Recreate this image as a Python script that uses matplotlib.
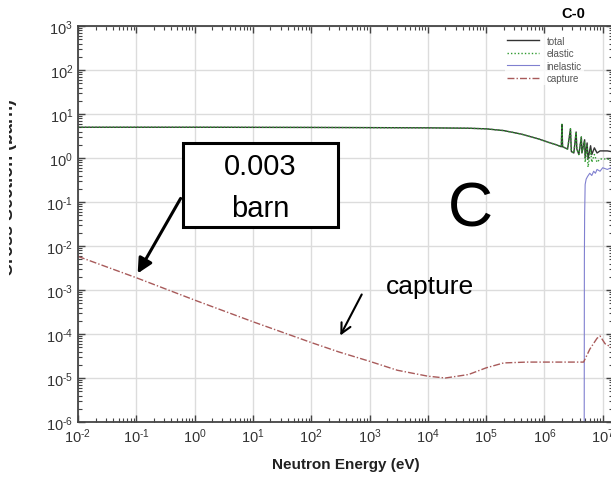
import numpy as np
import matplotlib
matplotlib.use('Agg')
import matplotlib.pyplot as plt
from matplotlib.patches import Rectangle
from matplotlib.transforms import Bbox
from matplotlib.ticker import LogLocator, FuncFormatter, NullFormatter

plt.rcParams['font.family'] = ['Liberation Sans', 'DejaVu Sans']
plt.rcParams['mathtext.fontset'] = 'custom'
plt.rcParams['mathtext.rm'] = 'Liberation Sans'
plt.rcParams['mathtext.it'] = 'Liberation Sans'

# --- Data (energy in eV, cross section in barn) ---
E_total = [1e-2, 1, 1e2, 1e3, 1e4, 5e4, 1e5, 2e5, 4e5, 8e5, 1.2e6, 1.6e6, 1.95e6,
           2.0e6, 2.05e6, 2.5e6, 2.8e6, 2.9e6, 3.2e6, 3.5e6, 3.6e6, 3.9e6, 4.3e6,
           4.4e6, 4.9e6, 5.0e6, 5.4e6, 5.6e6, 6.2e6, 6.5e6, 7.2e6, 8e6, 9e6, 1.2e7, 1.4e7]
sig_total = [5.0, 5.0, 4.95, 4.9, 4.85, 4.75, 4.6, 4.2, 3.5, 2.7, 2.25, 2.0, 1.8,
             5.8, 1.8, 1.6, 4.6, 1.4, 1.3, 3.9, 1.6, 1.2, 3.0,
             1.3, 2.6, 1.0, 2.2, 0.95, 1.9, 1.2, 1.7, 1.3, 1.45, 1.45, 1.4]
sig_elastic = [5.0, 5.0, 4.95, 4.9, 4.85, 4.75, 4.6, 4.2, 3.5, 2.7, 2.25, 2.0, 1.8,
               5.8, 1.8, 1.6, 4.6, 1.4, 1.3, 3.9, 1.6, 1.2, 3.0,
               1.3, 2.4, 0.8, 1.9, 0.62, 1.5, 0.8, 1.2, 0.8, 0.95, 0.95, 0.9]

E_inel = [4.81e6, 4.85e6, 4.9e6, 5.0e6, 5.2e6, 5.5e6, 6e6, 6.5e6, 7e6, 7.5e6, 8e6, 9e6, 1e7, 1.2e7, 1.4e7]
sig_inel = [1e-7, 5e-3, 0.05, 0.25, 0.33, 0.38, 0.45, 0.4, 0.5, 0.45, 0.55, 0.5, 0.6, 0.55, 0.6]

E_capt = [1e-2, 1e-1, 1, 10, 100, 300, 1e3, 3e3, 1e4, 2e4, 5e4, 1e5, 2e5, 5e5,
          1e6, 2e6, 4.7e6, 6e6, 8e6, 9e6, 1.1e7, 1.4e7]
sig_capt = [5.8e-3, 1.9e-3, 5.9e-4, 1.9e-4, 6.4e-5, 3.9e-5, 2.4e-5, 1.5e-5, 1.1e-5, 1.0e-5,
            1.2e-5, 1.7e-5, 2.2e-5, 2.3e-5, 2.3e-5, 2.3e-5, 2.3e-5, 4.5e-5, 8e-5, 9e-5, 6e-5, 5e-5]

W, H = 611, 481
fig = plt.figure(figsize=(W / 100, H / 100), dpi=100)
# axes runs slightly past the right edge, as in the cropped original
ax = fig.add_axes([78 / W, (H - 423) / H, (613 - 78) / W, (423 - 27) / H])

ax.plot(E_total, sig_total, color='#333333', lw=1.0, label='total')
ax.plot(E_total, sig_elastic, color='#2f9a2f', lw=1.0, ls=(0, (1, 1.5)), label='elastic')
ax.plot(E_inel, sig_inel, color='#8080d0', lw=0.8, label='inelastic')
ax.plot(E_capt, sig_capt, color='#a85a5a', lw=1.0, ls=(0, (5, 1.5, 1, 1.5)), label='capture')

ax.set_xscale('log')
ax.set_yscale('log')
ax.set_xlim(1e-2, 10 ** (-2 + (613 - 78) / 58.3))
ax.set_ylim(1e-6, 1e3)


def pow10(v, pos):
    return r'$10^{\text{%d}}$' % int(round(np.log10(v)))


ax.xaxis.set_major_locator(LogLocator(base=10, numticks=20))
ax.yaxis.set_major_locator(LogLocator(base=10, numticks=20))
ax.xaxis.set_minor_locator(LogLocator(base=10, subs=np.arange(2, 10), numticks=200))
ax.yaxis.set_minor_locator(LogLocator(base=10, subs=np.arange(2, 10), numticks=200))
ax.xaxis.set_major_formatter(FuncFormatter(pow10))
ax.yaxis.set_major_formatter(FuncFormatter(pow10))
ax.xaxis.set_minor_formatter(NullFormatter())
ax.yaxis.set_minor_formatter(NullFormatter())

ax.tick_params(which='both', direction='in', top=True, right=True, colors='#444444',
               labelcolor='#333333', labelsize=10.5)
ax.tick_params(which='major', length=5, width=1)
ax.tick_params(which='minor', length=3, width=0.8)
for side in ['left', 'bottom', 'top', 'right']:
    ax.spines[side].set_color('#444444')
    ax.spines[side].set_linewidth(1.3)
ax.grid(True, which='major', color='#dcdcdc', lw=1.0)
ax.set_axisbelow(True)

ax.set_xlabel('Neutron Energy (eV)', fontsize=11, fontweight='bold', color='#222222', labelpad=8)

leg = ax.legend(loc='upper left', bbox_to_anchor=((500 - 78) / (613 - 78), 1 - 3 / 396),
                fontsize=7, frameon=True, fancybox=False, handlelength=3.3,
                labelspacing=0.25, borderpad=0.2, handletextpad=0.8)
leg.get_frame().set_edgecolor('none')
for t in leg.get_texts():
    t.set_color('#555555')

# y label mostly cut off at the left, as in the cropped original
ylab = fig.text(9 / W, 1 - 188 / H, 'Cross Section (barn)', rotation=90, ha='center', va='center',
                fontsize=13, fontweight='bold', color='#222222')
ylab.set_clip_box(Bbox.from_extents(9, 0, W, H))
ylab.set_clip_on(True)

fig.text(573 / W, 1 - 14 / H, 'C-0', ha='center', va='center', fontsize=10.5, fontweight='bold')

# annotation box
fig.add_artist(Rectangle((183 / W, (H - 228) / H), 155 / W, 84 / H, transform=fig.transFigure,
                         facecolor='white', edgecolor='black', lw=2.2, zorder=5))
fig.text(260 / W, 1 - 167 / H, '0.003', ha='center', va='center', fontsize=21, zorder=6)
fig.text(260 / W, 1 - 209 / H, 'barn', ha='center', va='center', fontsize=21, zorder=6)
ax.annotate('', xy=(0.1, 0.0021), xycoords='data', xytext=(182, H - 197),
            textcoords='figure pixels',
            arrowprops=dict(arrowstyle='-|>', color='black', lw=2.2, mutation_scale=22))

fig.text(470 / W, 1 - 210 / H, 'C', ha='center', va='center', fontsize=45)
fig.text(430 / W, 1 - 287 / H, 'capture', ha='center', va='center', fontsize=19)
ax.annotate('', xy=(339, H - 339), xycoords='figure pixels', xytext=(363, H - 293),
            textcoords='figure pixels',
            arrowprops=dict(arrowstyle='->', color='black', lw=1.5, mutation_scale=18))

fig.savefig('out.png', dpi=100)
